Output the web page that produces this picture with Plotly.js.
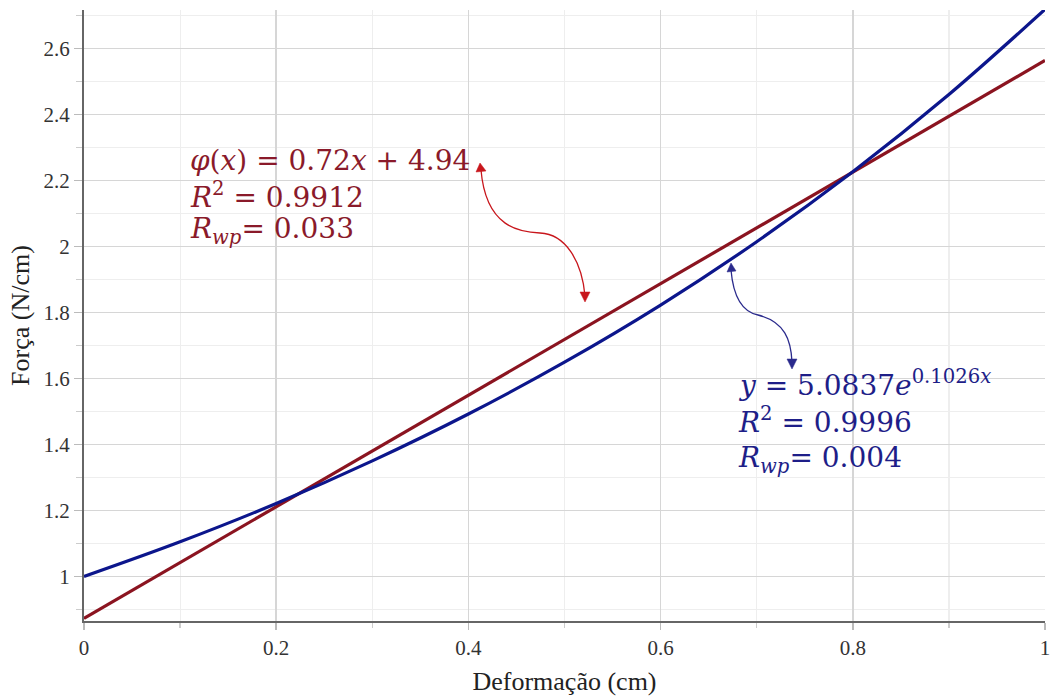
<!DOCTYPE html>
<html>
<head>
<meta charset="utf-8">
<script src="https://cdn.plot.ly/plotly-3.0.1.min.js"></script>
<style>html,body{margin:0;padding:0;background:#fff;}#chart{width:1051px;height:698px;}</style>
</head>
<body>
<div id="chart"></div>
<script>
// Values
const deformacao = [0, 0.1, 0.2, 0.3, 0.4, 0.5, 0.6, 0.7, 0.8, 0.9, 1.0];
const forcaExp   = [1.000, 1.105, 1.221, 1.350, 1.492, 1.649, 1.822, 2.014, 2.226, 2.460, 2.718];
const forcaLin   = [0.873, 1.042, 1.211, 1.380, 1.549, 1.718, 1.887, 2.056, 2.225, 2.394, 2.563];
const xTicks = [0, 0.2, 0.4, 0.6, 0.8, 1];
const xTickLabels = ['0', '0.2', '0.4', '0.6', '0.8', '1'];
const yTicks = [1, 1.2, 1.4, 1.6, 1.8, 2, 2.2, 2.4, 2.6];
const yTickLabels = ['1', '1.2', '1.4', '1.6', '1.8', '2', '2.2', '2.4', '2.6'];
const linText = ['<i>φ</i>(<i>x</i>) = 0.72<i>x</i> + 4.94', '<i>R</i><sup>2</sup> = 0.9912', '<i>R</i><sub><i>wp</i></sub>= 0.033'];
const expText = ['<i>y</i> = 5.0837<i>e</i><sup>0.1026<i>x</i></sup>', '<i>R</i><sup>2</sup> = 0.9996', '<i>R</i><sub><i>wp</i></sub>= 0.004'];

const W = 1051, H = 698;
const L = 84, R = 6, T = 10, B = 77;
const pw = W - L - R, ph = H - T - B;
const px = v => (v - L) / pw;          // pixel -> paper x
const py = v => (H - B - v) / ph;      // pixel -> paper y

const red = '#8b1420', blue = '#0c168c';
const redTxt = '#8a1a2a', blueTxt = '#1e1e88';
const redArr = '#c8161c', blueArr = '#2a2a8c';

function bez(points) {
  let s = 'M ' + px(points[0][0]) + ',' + py(points[0][1]);
  for (let i = 1; i < points.length; i += 3) {
    s += ' C ' + [points[i], points[i+1], points[i+2]].map(p => px(p[0]) + ',' + py(p[1])).join(' ');
  }
  return s;
}
function tri(a, b, c) {
  return 'M ' + [a, b, c].map(p => px(p[0]) + ',' + py(p[1])).join(' L ') + ' Z';
}

const traces = [
  {x: deformacao, y: forcaLin, mode: 'lines', line: {color: red, width: 3.2}, hoverinfo: 'skip'},
  {x: deformacao, y: forcaExp, mode: 'lines', line: {color: blue, width: 3.2, shape: 'spline', smoothing: 1}, hoverinfo: 'skip'}
];

const shapes = [
  {type: 'path', xref: 'paper', yref: 'paper', path: bez([[481,170],[486,228],[520,232],[540,233],[566,234],[582,262],[585,296]]), line: {color: redArr, width: 1.3}},
  {type: 'path', xref: 'paper', yref: 'paper', path: tri([480,163],[476,172],[486,171]), fillcolor: redArr, line: {color: redArr, width: 0.5}},
  {type: 'path', xref: 'paper', yref: 'paper', path: tri([585,302],[580,292],[590,292]), fillcolor: redArr, line: {color: redArr, width: 0.5}},
  {type: 'path', xref: 'paper', yref: 'paper', path: bez([[731,270],[734,305],[748,313],[758,315],[785,322],[791,340],[792,362]]), line: {color: blueArr, width: 1.3}},
  {type: 'path', xref: 'paper', yref: 'paper', path: tri([731,263],[727,272],[736,271]), fillcolor: blueArr, line: {color: blueArr, width: 0.5}},
  {type: 'path', xref: 'paper', yref: 'paper', path: tri([792,369],[787,359],[797,359]), fillcolor: blueArr, line: {color: blueArr, width: 0.5}}
];

const mathFont = {family: 'DejaVu Serif', size: 28};
const annotations = [];
[160, 195, 231].forEach((yy, i) => annotations.push({xref: 'paper', yref: 'paper', x: px(188), y: py(yy), xanchor: 'left', yanchor: 'middle', showarrow: false, text: linText[i], font: Object.assign({}, mathFont, {color: redTxt})}));
[383, 421, 459].forEach((yy, i) => annotations.push({xref: 'paper', yref: 'paper', x: px(736), y: py(yy), xanchor: 'left', yanchor: 'middle', showarrow: false, text: expText[i], font: Object.assign({}, mathFont, {color: blueTxt})}));

const layout = {
  width: W, height: H,
  margin: {l: L, r: R, t: T, b: B},
  paper_bgcolor: '#fff', plot_bgcolor: '#fff',
  showlegend: false,
  font: {family: 'Liberation Serif', size: 21, color: '#333'},
  xaxis: {
    range: [0, 1], tickvals: xTicks, ticktext: xTickLabels,
    showline: true, linecolor: '#666', linewidth: 2,
    showgrid: true, gridcolor: '#d6d6d6', gridwidth: 1.5,
    ticks: 'outside', ticklen: 7, tickcolor: '#bbb', tickwidth: 1.5,
    tickfont: {family: 'Liberation Serif', size: 21, color: '#333'},
    minor: {dtick: 0.1, showgrid: true, gridcolor: '#eeeeee', gridwidth: 1.2, ticks: 'outside', ticklen: 5, tickcolor: '#ccc'},
    zeroline: false, fixedrange: true,
    title: {text: 'Deformação (cm)', font: {family: 'Liberation Serif', size: 26, color: '#222'}, standoff: 13}
  },
  yaxis: {
    range: [0.865, 2.716], tickvals: yTicks, ticktext: yTickLabels,
    showline: true, linecolor: '#666', linewidth: 2,
    showgrid: true, gridcolor: '#d6d6d6', gridwidth: 1.5,
    ticks: 'outside', ticklen: 8, tickcolor: '#bbb', tickwidth: 1.5,
    tickfont: {family: 'Liberation Serif', size: 21, color: '#333'},
    minor: {dtick: 0.1, tick0: 0, showgrid: true, gridcolor: '#eeeeee', gridwidth: 1.2, ticks: 'outside', ticklen: 6, tickcolor: '#ccc'},
    zeroline: false, fixedrange: true,
    title: {text: 'Força (N/cm)', font: {family: 'Liberation Serif', size: 26, color: '#222'}, standoff: 6}
  },
  shapes: shapes,
  annotations: annotations
};

Plotly.newPlot('chart', traces, layout, {displayModeBar: false, staticPlot: true});
</script>
</body>
</html>
